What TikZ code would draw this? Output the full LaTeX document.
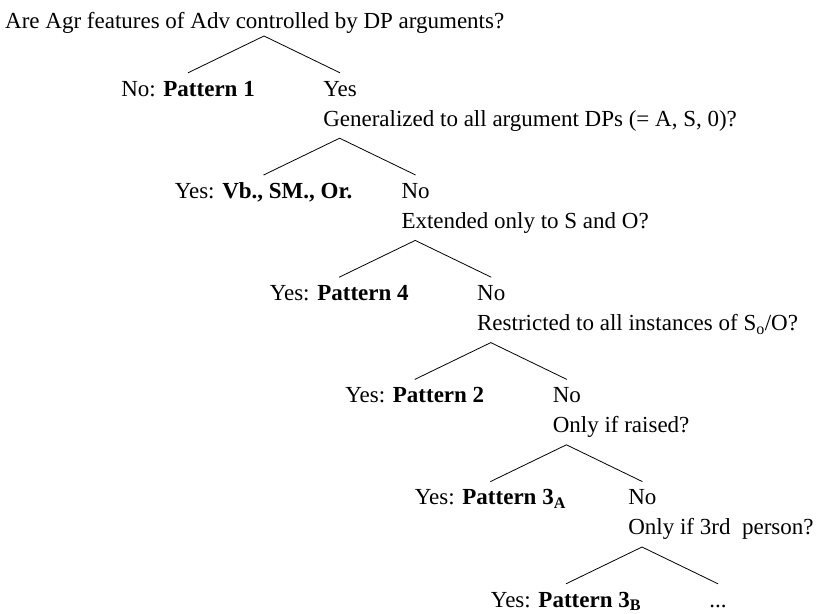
\documentclass[tikz,border=0pt]{standalone}
\usepackage{fontspec}
\setmainfont{Liberation Serif}
\usetikzlibrary{calc}
\tikzset{
  question/.style={
    anchor=base west,
    inner sep=0pt
  },
  answer/.style={
    anchor=base,
    inner sep=0pt,
    text height=23pt,
    text depth=0pt
  },
  branch/.style={
    line width=0.8pt
  },
  every picture/.style={
    font=\fontsize{23}{27}\selectfont
  }
}

\begin{document}
\begin{tikzpicture}[x=1pt,y=-1pt]
        \useasboundingbox (0,0) rectangle (819,613);
        \foreach \k in {1,...,6}{
                \coordinate (t\k) at ({264+75.6*(\k-1)},{36+102.2*(\k-1)});
            }
        \node[question] (q0) at (5,28) {Are Agr features of Adv controlled by DP arguments?};
        % yes/no under each question
        \node[answer] (y1) at ($(t1)+(-76,60)$) {No: \textbf{Pattern 1}};
        \node[answer] (n1) at ($(t1)+(76,60)$) {Yes};
        \node[answer] (y2) at ($(t2)+(-76,60)$) {Yes: \textbf{Vb., SM., Or.}};
        \node[answer] (n2) at ($(t2)+(76,60)$) {No};
        \node[answer] (y3) at ($(t3)+(-76,60)$) {Yes: \textbf{Pattern 4}};
        \node[answer] (n3) at ($(t3)+(76,60)$) {No};
        \node[answer] (y4) at ($(t4)+(-76,60)$) {Yes: \textbf{Pattern 2}};
        \node[answer] (n4) at ($(t4)+(76,60)$) {No};
        \node[answer] (y5) at ($(t5)+(-76,60)$) {Yes: \textbf{Pattern 3\textsubscript{A}}};
        \node[answer] (n5) at ($(t5)+(76,60)$) {No};
        \node[answer] (y6) at ($(t6)+(-76,60)$) {Yes: \textbf{Pattern 3\textsubscript{B}}};
        \node[answer] (n6) at ($(t6)+(76,60)$) {...};
        % follow-up questions
        \node[question] (q1) at ($(n1.base west)+(0,30)$) {Generalized to all argument DPs (= A, S, 0)?};
        \node[question] (q2) at ($(n2.base west)+(0,30)$) {Extended only to S and O?};
        \node[question] (q3) at ($(n3.base west)+(0,30)$) {Restricted to all instances of S\textsubscript{o}/O?};
        \node[question] (q4) at ($(n4.base west)+(0,30)$) {Only if raised?};
        \node[question] (q5) at ($(n5.base west)+(0,30)$) {Only if 3rd\ \ person?};
        \foreach \k in {1,...,6}{
                \draw[branch] (y\k.north) -- (t\k) -- (n\k.north);
            }
\end{tikzpicture}
\end{document}
